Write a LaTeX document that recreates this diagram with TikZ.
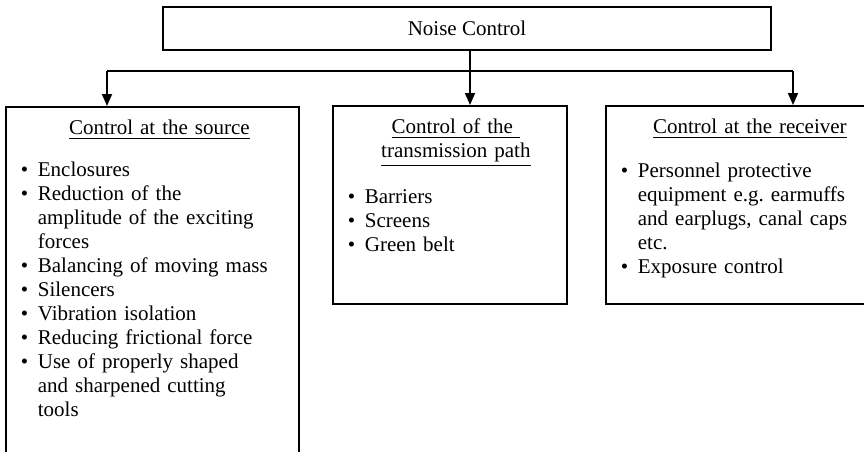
\documentclass[tikz,border=0pt]{standalone}
\usepackage{fontspec}
\setmainfont{Liberation Serif}
\usetikzlibrary{arrows.meta}
\newcommand\blt[1]{\par\noindent\hangindent=16pt\hangafter=1\makebox[16pt][l]{\hspace{7.5pt}\textbullet}#1}

\begin{document}
\begin{tikzpicture}[x=0.5pt,y=-0.5pt,>={Triangle[width=5pt,length=6pt]},line width=0.9pt,
every node/.style={font=\fontsize{10.5pt}{12pt}\selectfont},
box/.style={draw,anchor=north west,inner sep=0pt,align=left,text height=14pt}]
\useasboundingbox(0,0)rectangle(864,451);
\clip(0,0)rectangle(864,451);
\node[draw,minimum width=304pt,minimum height=21.5pt](noise)at(467,28.5){Noise Control};
\node[box,text width=146.5pt,text depth=174pt](src)at(5,106){%
{\centering\hspace*{7pt}\underline{Control at the source}\par}\vspace{9pt}
\blt{Enclosures}
\blt{Reduction of the\newline amplitude of the exciting\newline forces}
\blt{Balancing of moving mass}
\blt{Silencers}
\blt{Vibration isolation}
\blt{Reducing frictional force}
\blt{Use of properly shaped\newline and sharpened cutting\newline tools}\par};
\node[box,text width=117pt,text depth=85pt](path)at(332,105){%
{\centering\hspace*{6pt}\underline{Control of the\ }\par
\hspace*{6pt}\underline{transmission path}\par}\vspace{11pt}
\blt{Barriers}
\blt{Screens}
\blt{Green belt}\par};
\node[box,text width=144pt,text depth=85pt](recv)at(605,105){%
{\centering\underline{Control at the receiver}\par}\vspace{10pt}
\blt{Personnel protective\newline equipment e.g.\ earmuffs\newline and earplugs, canal caps\newline etc.}
\blt{Exposure control}\par};
\coordinate(hub)at(470,71);
\coordinate(jl)at(107,71);
\coordinate(jr)at(793,71);
\draw(noise.south-|hub)--(hub)
(jl)--(jr);
\draw[->](jl)--(jl|-src.north);
\draw[->](hub)--(hub|-path.north);
\draw[->](jr)--(jr|-recv.north);
\end{tikzpicture}
\end{document}
